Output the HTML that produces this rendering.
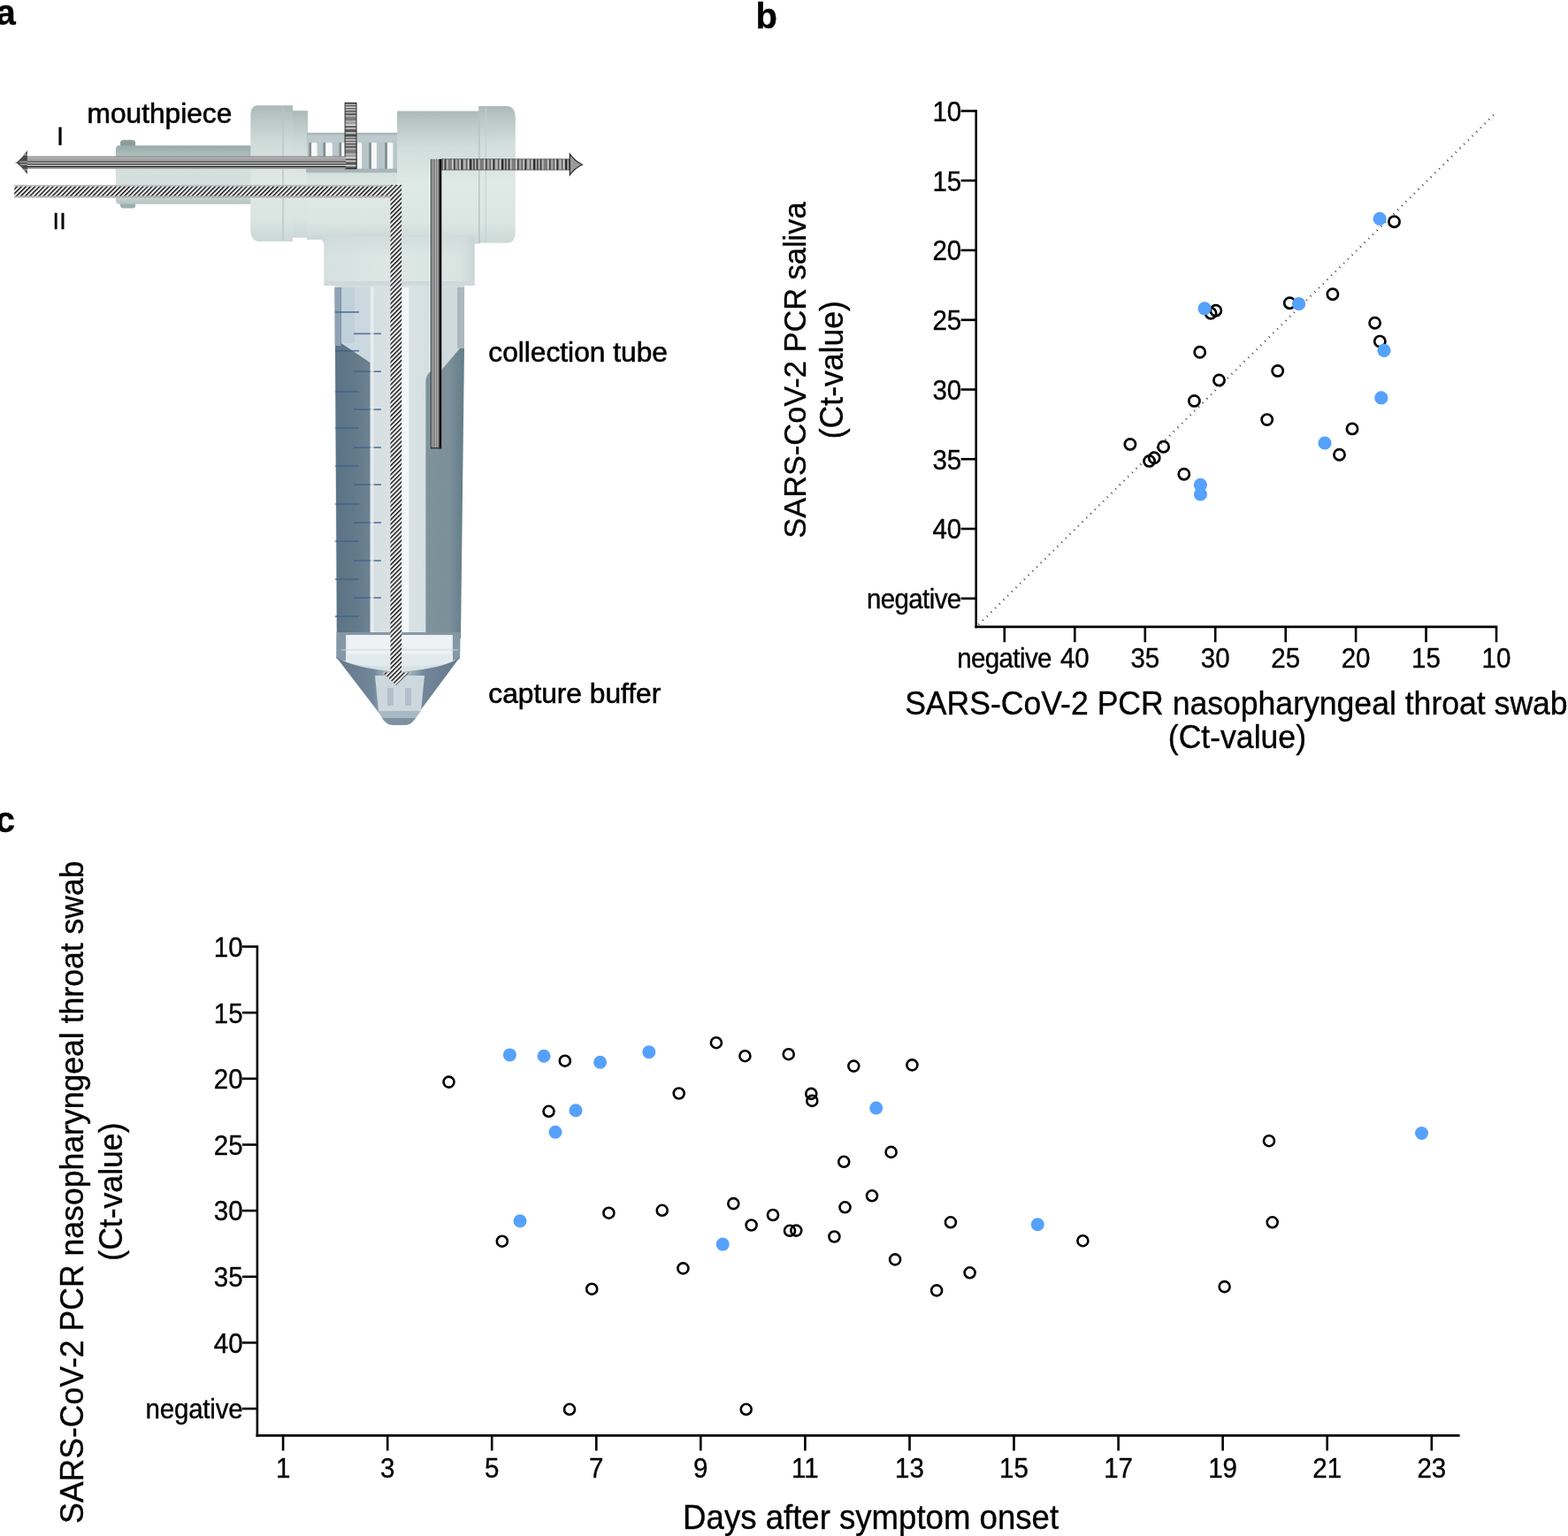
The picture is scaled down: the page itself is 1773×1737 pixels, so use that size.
<!DOCTYPE html><html><head><meta charset="utf-8"><title>Figure</title><style>html,body{margin:0;padding:0;background:#fff;}svg{display:block;}</style></head><body>
<svg width="1773" height="1737" viewBox="0 0 1773 1737">
<rect width="1773" height="1737" fill="#fff"/>
<style>text{stroke:#000;stroke-width:0.35px;}</style>
<defs>
<linearGradient id="gCyl" x1="0" y1="0" x2="0" y2="1">
 <stop offset="0" stop-color="#a9b9b7"/><stop offset="0.07" stop-color="#b6c5c3"/><stop offset="0.28" stop-color="#d0dcd9"/><stop offset="0.55" stop-color="#dee8e5"/><stop offset="0.85" stop-color="#dae4e1"/><stop offset="1" stop-color="#cbd8d5"/>
</linearGradient>
<linearGradient id="gCylR" x1="0" y1="0" x2="0" y2="1">
 <stop offset="0" stop-color="#aabab8"/><stop offset="0.08" stop-color="#b8c7c5"/><stop offset="0.28" stop-color="#d2dedb"/><stop offset="0.55" stop-color="#dfe9e6"/><stop offset="0.85" stop-color="#dbe5e2"/><stop offset="1" stop-color="#ccd9d6"/>
</linearGradient>
<linearGradient id="gMouth" x1="0" y1="0" x2="0" y2="1">
 <stop offset="0" stop-color="#98aba8"/><stop offset="0.18" stop-color="#aebfbc"/><stop offset="0.4" stop-color="#d3dfdd"/><stop offset="0.8" stop-color="#d6e1de"/><stop offset="1" stop-color="#b3c3c0"/>
</linearGradient>
<linearGradient id="gNeck" x1="0" y1="0" x2="1" y2="0">
 <stop offset="0" stop-color="#c9d6d4"/><stop offset="0.08" stop-color="#d6e1df"/><stop offset="0.5" stop-color="#dde7e4"/><stop offset="0.92" stop-color="#d9e4e1"/><stop offset="1" stop-color="#c9d6d4"/>
</linearGradient>
<linearGradient id="gNeckTop" x1="0" y1="0" x2="0" y2="1">
 <stop offset="0" stop-color="#cbd6d8" stop-opacity="1"/><stop offset="1" stop-color="#cbd6d8" stop-opacity="0"/>
</linearGradient>
<linearGradient id="gLiqL" x1="378" y1="0" x2="419" y2="0" gradientUnits="userSpaceOnUse">
 <stop offset="0" stop-color="#5c7386"/><stop offset="0.5" stop-color="#617889"/><stop offset="1" stop-color="#6d8392"/>
</linearGradient>
<linearGradient id="gLiqR" x1="481" y1="0" x2="525" y2="0" gradientUnits="userSpaceOnUse">
 <stop offset="0" stop-color="#7f939c"/><stop offset="0.6" stop-color="#7c9099"/><stop offset="0.85" stop-color="#6c8390"/><stop offset="1" stop-color="#647c89"/>
</linearGradient>
<linearGradient id="gTubeMid" x1="0" y1="0" x2="1" y2="0">
 <stop offset="0" stop-color="#cfdadd"/><stop offset="0.5" stop-color="#dae3e6"/><stop offset="1" stop-color="#d0dadd"/>
</linearGradient>
<linearGradient id="gCone" x1="0" y1="0" x2="1" y2="0">
 <stop offset="0" stop-color="#63788a"/><stop offset="0.3" stop-color="#71879a"/><stop offset="0.45" stop-color="#b9c8d0"/><stop offset="0.55" stop-color="#b9c8d0"/><stop offset="0.7" stop-color="#72889a"/><stop offset="1" stop-color="#64798b"/>
</linearGradient>
<pattern id="pHatch" patternUnits="userSpaceOnUse" width="3.6" height="3.6" patternTransform="rotate(45)">
 <rect width="3.6" height="3.6" fill="#f2f2f2"/><rect width="1.45" height="3.6" fill="#111"/>
</pattern>
<pattern id="pBarH" patternUnits="userSpaceOnUse" width="10" height="37" y="116.3">
 <rect width="10" height="37" fill="#8c8c8c"/>
 <rect y="0" width="10" height="1.2" fill="#333"/><rect y="1.6" width="10" height="1" fill="#e0e0e0"/><rect y="3.2" width="10" height="0.9" fill="#222"/>
 <rect y="4.4" width="10" height="1.4" fill="#f2f2f2"/><rect y="6" width="10" height="0.8" fill="#1a1a1a"/><rect y="7.2" width="10" height="1.6" fill="#cfcfcf"/>
 <rect y="9.2" width="10" height="0.9" fill="#222"/><rect y="10.6" width="10" height="1.4" fill="#bdbdbd"/><rect y="12.4" width="10" height="1.2" fill="#2a2a2a"/>
 <rect y="14.2" width="10" height="1.1" fill="#d9d9d9"/><rect y="16" width="10" height="4" fill="#7a7a7a"/><rect y="20.4" width="10" height="1.4" fill="#c4c4c4"/>
 <rect y="22.5" width="10" height="1.5" fill="#9f9f9f"/><rect y="24.4" width="10" height="1.8" fill="#e8e8e8"/><rect y="26.6" width="10" height="1" fill="#111"/>
 <rect y="28.2" width="10" height="1.2" fill="#ececec"/><rect y="30" width="10" height="3" fill="#555"/><rect y="33.6" width="10" height="1.2" fill="#f5f5f5"/>
 <rect y="35.4" width="10" height="1" fill="#222"/>
</pattern>
<pattern id="pBarV" patternUnits="userSpaceOnUse" width="36" height="10" x="499.4">
 <rect width="36" height="10" fill="#8e8e8e"/>
 <rect x="0" width="1.2" height="10" fill="#1a1a1a"/><rect x="1.8" width="1" height="10" fill="#e6e6e6"/><rect x="3.4" width="1.6" height="10" fill="#2b2b2b"/>
 <rect x="5.6" width="1.2" height="10" fill="#d8d8d8"/><rect x="7.4" width="4" height="10" fill="#7a7a7a"/><rect x="12" width="1.2" height="10" fill="#f2f2f2"/>
 <rect x="13.8" width="1.2" height="10" fill="#151515"/><rect x="15.6" width="2.4" height="10" fill="#a6a6a6"/><rect x="18.6" width="0.9" height="10" fill="#333"/>
 <rect x="20" width="1.4" height="10" fill="#e8e8e8"/><rect x="22" width="1.8" height="10" fill="#222"/><rect x="24.4" width="3" height="10" fill="#b5b5b5"/>
 <rect x="28" width="1" height="10" fill="#3a3a3a"/><rect x="29.6" width="1.4" height="10" fill="#efefef"/><rect x="31.6" width="2.2" height="10" fill="#1e1e1e"/><rect x="34.4" width="1" height="10" fill="#cfcfcf"/>
</pattern>
</defs>
<rect x="136" y="158.3" width="17.2" height="8.5" rx="3.5" fill="#8e9b9c"/>
<rect x="136" y="228" width="17.2" height="7.6" rx="3.5" fill="#9fadae"/>
<path d="M134.5 164.4 H284 V230.7 H134.5 Q130.8 230.7 130.8 225 V170 Q130.8 164.4 134.5 164.4 Z" fill="url(#gMouth)"/>
<path d="M290 119.3 H331 V273 H292 Q284 272 283.3 262 V131 Q283.5 120 290 119.3 Z" fill="url(#gCyl)"/>
<rect x="319.4" y="121" width="1.4" height="151" fill="#b9c6c9"/>
<rect x="330.8" y="125.2" width="17.3" height="143.5" fill="url(#gCyl)"/>
<rect x="347" y="150" width="104" height="121" fill="url(#gCyl)"/>
<rect x="348" y="150.5" width="101" height="11" fill="#bccacd"/>
<rect x="348" y="150.5" width="101" height="2" fill="#a9b7ba"/>
<rect x="348" y="161" width="101" height="34" fill="#b9c6c9"/>
<rect x="352" y="161.3" width="6.6" height="29.6" rx="1.5" fill="#f6f8f9"/>
<rect x="349.4" y="161.3" width="2.6" height="29.6" fill="#7f8c8f"/>
<rect x="368.1" y="161.3" width="7.7" height="29.6" rx="1.5" fill="#f6f8f9"/>
<rect x="365.5" y="161.3" width="2.6" height="29.6" fill="#7f8c8f"/>
<rect x="386.1" y="161.3" width="4.0" height="29.6" rx="1.5" fill="#f6f8f9"/>
<rect x="383.5" y="161.3" width="2.6" height="29.6" fill="#7f8c8f"/>
<rect x="403.7" y="161.3" width="5.5" height="29.6" rx="1.5" fill="#f6f8f9"/>
<rect x="401.09999999999997" y="161.3" width="2.6" height="29.6" fill="#7f8c8f"/>
<rect x="419.8" y="161.3" width="6.2" height="29.6" rx="1.5" fill="#f6f8f9"/>
<rect x="417.2" y="161.3" width="2.6" height="29.6" fill="#7f8c8f"/>
<rect x="437.8" y="161.3" width="6.6" height="29.6" rx="1.5" fill="#f6f8f9"/>
<rect x="435.2" y="161.3" width="2.6" height="29.6" fill="#7f8c8f"/>
<rect x="346" y="190.8" width="104" height="4.5" rx="1" fill="#a7b5b8"/>
<rect x="449" y="125.6" width="93.5" height="150" fill="url(#gCylR)"/>
<path d="M541.6 120 H574 Q582.3 120.5 582.8 132 V263 Q582.3 274.5 574 274.8 H541.6 Z" fill="url(#gCylR)"/>
<rect x="541.2" y="120" width="1.3" height="155" fill="#b1bfc2"/>
<rect x="548.8" y="121" width="1" height="153" fill="#c2ced1"/>
<path d="M356 267 H366.4 H536.7 V323 H366.4 V278 Q366.4 268.4 356 268.4 Z" fill="url(#gNeck)"/>
<path d="M356 266 H536.7 V290 H366.4 V278 Q366.4 268.4 356 268.4 Z" fill="url(#gNeckTop)" opacity="0.6"/>
<rect x="366.4" y="318" width="170.3" height="5" fill="#cfd9dc"/>
<path d="M378.6 322.7 H525.2 L520.1 743 L469 812 Q466 819 458 820 H444 Q436 819 433 812 L380.2 743 Z" fill="url(#gTubeMid)"/>
<path d="M378.6 325 H386 V388 L418.7 410 V718 H381 Z" fill="url(#gLiqL)"/>
<rect x="378.6" y="325" width="7" height="66" fill="#8ea2b3"/>
<path d="M386 325 H418.7 V410 L386 388 Z" fill="#cbd8df"/>
<rect x="386" y="325" width="15" height="63" fill="#c0d0da"/>
<rect x="379" y="352.1" width="27" height="1.7" fill="#41628a" opacity="0.8"/>
<rect x="400" y="376.5" width="31" height="1.7" fill="#41628a" opacity="0.8"/>
<rect x="379" y="395.9" width="27" height="1.7" fill="#41628a" opacity="0.8"/>
<rect x="400" y="419.3" width="31" height="1.7" fill="#41628a" opacity="0.8"/>
<rect x="379" y="442.2" width="27" height="1.7" fill="#41628a" opacity="0.8"/>
<rect x="400" y="462.2" width="31" height="1.7" fill="#41628a" opacity="0.8"/>
<rect x="379" y="483.2" width="27" height="1.7" fill="#41628a" opacity="0.8"/>
<rect x="400" y="505.2" width="31" height="1.7" fill="#41628a" opacity="0.8"/>
<rect x="379" y="526.2" width="27" height="1.7" fill="#41628a" opacity="0.8"/>
<rect x="400" y="547.2" width="31" height="1.7" fill="#41628a" opacity="0.8"/>
<rect x="379" y="569.2" width="27" height="1.7" fill="#41628a" opacity="0.8"/>
<rect x="400" y="590.2" width="31" height="1.7" fill="#41628a" opacity="0.8"/>
<rect x="379" y="611.2" width="27" height="1.7" fill="#41628a" opacity="0.8"/>
<rect x="400" y="633.2" width="31" height="1.7" fill="#41628a" opacity="0.8"/>
<rect x="379" y="654.2" width="27" height="1.7" fill="#41628a" opacity="0.8"/>
<rect x="400" y="675.2" width="31" height="1.7" fill="#41628a" opacity="0.8"/>
<rect x="379" y="696.2" width="27" height="1.7" fill="#41628a" opacity="0.8"/>
<rect x="396" y="732.2" width="28" height="1.7" fill="#41628a" opacity="0.8"/>
<path d="M499.6 325 H525 V394 L520 394 L499.6 418 Z" fill="#d0d9dc"/>
<rect x="517" y="325" width="8" height="69" fill="#aab7bd"/>
<path d="M481.4 432 Q482 416 499.6 418 L520 394 H525 L521 722 H481.4 Z" fill="url(#gLiqR)"/>
<rect x="454.4" y="325" width="8" height="396" fill="#f3f7f8"/>
<rect x="418.7" y="325" width="4" height="396" fill="#e9eff2" opacity="0.8"/>
<path d="M380.5 715 H520.5 L520.1 745 Q452 762 380.3 745 Z" fill="#8497a6"/>
<path d="M391 718 H512 V750 Q452 758 391 750 Z" fill="#e3eaed"/>
<rect x="393" y="718" width="117" height="21.5" fill="#eef2f4"/>
<path d="M386 735 H518" stroke="#cdd6dc" stroke-width="1"/>
<path d="M380.2 743 Q400 756 452 760 Q504 756 520.1 743 L469 812 Q466 819 458 820 H444 Q436 819 433 812 Z" fill="url(#gCone)"/>
<path d="M424 764 H480 L476 804 H428 Z" fill="#cdd8de"/>
<rect x="438" y="778" width="7" height="20" fill="#b3bfc8"/><rect x="458" y="778" width="7" height="20" fill="#b3bfc8"/>
<path d="M428 804 H476 L470 812 H432 Z" fill="#a9b9c4"/>
<path d="M432 812 H470 Q466 819 458 820 H444 Q436 819 432 812 Z" fill="#7d91a1"/>
<rect x="16.2" y="209" width="437.8" height="14.3" fill="url(#pHatch)"/>
<rect x="16.2" y="209" width="437.8" height="1.8" fill="#c2c2c2"/>
<rect x="16.2" y="221.6" width="425.3" height="1.7" fill="#b4b4b4"/>
<rect x="441.5" y="209" width="12.6" height="552" fill="url(#pHatch)"/>
<path d="M433 760.5 H462.6 L447.8 775 Z" fill="url(#pHatch)"/>
<rect x="390.1" y="116.3" width="12.9" height="74.5" fill="url(#pBarH)"/>
<rect x="390.1" y="116.3" width="12.9" height="74.5" fill="none" stroke="#1a1a1a" stroke-width="0.9"/>
<rect x="30" y="176.8" width="361" height="14" fill="#a2a2a2"/>
<rect x="30" y="176.8" width="361" height="0.9" fill="#7a7a7a"/>
<rect x="30" y="177.7" width="361" height="1.3" fill="#b9b9b9"/>
<rect x="30" y="182.6" width="361" height="1.1" fill="#151515"/>
<rect x="30" y="183.7" width="361" height="1.3" fill="#cfcfcf"/>
<rect x="30" y="185.0" width="361" height="0.9" fill="#151515"/>
<rect x="30" y="185.9" width="361" height="2.2" fill="#ababab"/>
<rect x="30" y="188.0" width="361" height="1.0" fill="#151515"/>
<rect x="30" y="189.0" width="361" height="1.8" fill="#959595"/>
<path d="M16 183.9 L19 183.4 Q24 179 25.8 176.8 L30.9 170.1 V197.1 L25.8 191 Q24 188.7 19 184.4 Z" fill="#4a4a4a"/>
<path d="M22 183 H31 M23 186 H31 M26 175 H31 M26 192 H31" stroke="#c8c8c8" stroke-width="1"/>
<rect x="499.4" y="179.9" width="145" height="12.2" fill="url(#pBarV)"/>
<rect x="499.4" y="179.9" width="145" height="12.2" fill="none" stroke="#444" stroke-width="0.7"/>
<rect x="487" y="179.9" width="12.4" height="327.5" fill="#a8a8a8"/>
<rect x="487.0" y="179.9" width="1.0" height="327.5" fill="#1c1c1c"/>
<rect x="488.2" y="179.9" width="0.8" height="327.5" fill="#f0f0f0"/>
<rect x="489.2" y="179.9" width="0.9" height="327.5" fill="#2a2a2a"/>
<rect x="490.3" y="179.9" width="0.8" height="327.5" fill="#e0e0e0"/>
<rect x="491.3" y="179.9" width="0.9" height="327.5" fill="#333"/>
<rect x="492.4" y="179.9" width="0.8" height="327.5" fill="#f2f2f2"/>
<rect x="493.4" y="179.9" width="0.9" height="327.5" fill="#444"/>
<rect x="494.5" y="179.9" width="0.8" height="327.5" fill="#d8d8d8"/>
<rect x="495.5" y="179.9" width="0.7" height="327.5" fill="#555"/>
<rect x="496.6" y="179.9" width="2.6" height="327.5" fill="#000"/>
<rect x="487" y="506" width="12.4" height="1.4" fill="#333"/>
<path d="M644.3 174.1 Q650 182 658.4 186.2 Q650 190 644.3 197.8 Z" fill="#9a9a9a" stroke="#2a2a2a" stroke-width="1.2"/>
<text x="98.5" y="138.9" font-family='&quot;Liberation Sans&quot;, Arial, sans-serif' font-size="31.7" style="stroke-width:0.6px">mouthpiece</text>
<text x="552.3" y="409.3" font-family='&quot;Liberation Sans&quot;, Arial, sans-serif' font-size="31.7" style="stroke-width:0.6px">collection tube</text>
<text x="552.3" y="794.6" font-family='&quot;Liberation Sans&quot;, Arial, sans-serif' font-size="31.7" style="stroke-width:0.6px">capture buffer</text>
<text x="64.0" y="164" font-family='&quot;Liberation Sans&quot;, Arial, sans-serif' font-size="29">I</text>
<text x="59.4" y="259.4" font-family='&quot;Liberation Sans&quot;, Arial, sans-serif' font-size="26.5" letter-spacing="0.4">II</text>
<text x="-4.6" y="28" font-family='&quot;Liberation Sans&quot;, Arial, sans-serif' font-weight="bold" font-size="40">a</text>
<text x="854.5" y="32" font-family='&quot;Liberation Sans&quot;, Arial, sans-serif' font-weight="bold" font-size="40">b</text>
<text x="-5.3" y="941" font-family='&quot;Liberation Sans&quot;, Arial, sans-serif' font-weight="bold" font-size="40">c</text>
<g id="plotsB"><line x1="1103.7" y1="124.2" x2="1103.7" y2="710.1999999999999" stroke="#000" stroke-width="2.6"/>
<line x1="1102.4" y1="708.9" x2="1693.3" y2="708.9" stroke="#000" stroke-width="2.6"/>
<line x1="1086.6" y1="125.5" x2="1103.7" y2="125.5" stroke="#000" stroke-width="2.6"/>
<text transform="translate(1087.2 136.9) scale(1 1.04)" text-anchor="end" font-family='&quot;Liberation Sans&quot;, Arial, sans-serif' font-size="29.5">10</text>
<line x1="1086.6" y1="204.2" x2="1103.7" y2="204.2" stroke="#000" stroke-width="2.6"/>
<text transform="translate(1087.2 215.7) scale(1 1.04)" text-anchor="end" font-family='&quot;Liberation Sans&quot;, Arial, sans-serif' font-size="29.5">15</text>
<line x1="1086.6" y1="283.0" x2="1103.7" y2="283.0" stroke="#000" stroke-width="2.6"/>
<text transform="translate(1087.2 294.4) scale(1 1.04)" text-anchor="end" font-family='&quot;Liberation Sans&quot;, Arial, sans-serif' font-size="29.5">20</text>
<line x1="1086.6" y1="361.8" x2="1103.7" y2="361.8" stroke="#000" stroke-width="2.6"/>
<text transform="translate(1087.2 373.1) scale(1 1.04)" text-anchor="end" font-family='&quot;Liberation Sans&quot;, Arial, sans-serif' font-size="29.5">25</text>
<line x1="1086.6" y1="440.5" x2="1103.7" y2="440.5" stroke="#000" stroke-width="2.6"/>
<text transform="translate(1087.2 451.9) scale(1 1.04)" text-anchor="end" font-family='&quot;Liberation Sans&quot;, Arial, sans-serif' font-size="29.5">30</text>
<line x1="1086.6" y1="519.2" x2="1103.7" y2="519.2" stroke="#000" stroke-width="2.6"/>
<text transform="translate(1087.2 530.6) scale(1 1.04)" text-anchor="end" font-family='&quot;Liberation Sans&quot;, Arial, sans-serif' font-size="29.5">35</text>
<line x1="1086.6" y1="598.0" x2="1103.7" y2="598.0" stroke="#000" stroke-width="2.6"/>
<text transform="translate(1087.2 609.4) scale(1 1.04)" text-anchor="end" font-family='&quot;Liberation Sans&quot;, Arial, sans-serif' font-size="29.5">40</text>
<line x1="1086.6" y1="676.8" x2="1103.7" y2="676.8" stroke="#000" stroke-width="2.6"/>
<text transform="translate(1087.2 687.9) scale(1 1.04)" text-anchor="end" textLength="107.3" font-family='&quot;Liberation Sans&quot;, Arial, sans-serif' font-size="29.5">negative</text>
<line x1="1215.3" y1="708.9" x2="1215.3" y2="726.2" stroke="#000" stroke-width="2.6"/>
<text transform="translate(1215.3 755.2) scale(1 1.04)" text-anchor="middle" font-family='&quot;Liberation Sans&quot;, Arial, sans-serif' font-size="29.5">40</text>
<line x1="1294.8" y1="708.9" x2="1294.8" y2="726.2" stroke="#000" stroke-width="2.6"/>
<text transform="translate(1294.8 755.2) scale(1 1.04)" text-anchor="middle" font-family='&quot;Liberation Sans&quot;, Arial, sans-serif' font-size="29.5">35</text>
<line x1="1374.2" y1="708.9" x2="1374.2" y2="726.2" stroke="#000" stroke-width="2.6"/>
<text transform="translate(1374.2 755.2) scale(1 1.04)" text-anchor="middle" font-family='&quot;Liberation Sans&quot;, Arial, sans-serif' font-size="29.5">30</text>
<line x1="1453.7" y1="708.9" x2="1453.7" y2="726.2" stroke="#000" stroke-width="2.6"/>
<text transform="translate(1453.7 755.2) scale(1 1.04)" text-anchor="middle" font-family='&quot;Liberation Sans&quot;, Arial, sans-serif' font-size="29.5">25</text>
<line x1="1533.1" y1="708.9" x2="1533.1" y2="726.2" stroke="#000" stroke-width="2.6"/>
<text transform="translate(1533.1 755.2) scale(1 1.04)" text-anchor="middle" font-family='&quot;Liberation Sans&quot;, Arial, sans-serif' font-size="29.5">20</text>
<line x1="1612.5" y1="708.9" x2="1612.5" y2="726.2" stroke="#000" stroke-width="2.6"/>
<text transform="translate(1612.5 755.2) scale(1 1.04)" text-anchor="middle" font-family='&quot;Liberation Sans&quot;, Arial, sans-serif' font-size="29.5">15</text>
<line x1="1692.0" y1="708.9" x2="1692.0" y2="726.2" stroke="#000" stroke-width="2.6"/>
<text transform="translate(1692.0 755.2) scale(1 1.04)" text-anchor="middle" font-family='&quot;Liberation Sans&quot;, Arial, sans-serif' font-size="29.5">10</text>
<line x1="1135.8" y1="708.9" x2="1135.8" y2="726.2" stroke="#000" stroke-width="2.6"/>
<text transform="translate(1135.8 755.2) scale(1 1.04)" text-anchor="middle" textLength="107.3" font-family='&quot;Liberation Sans&quot;, Arial, sans-serif' font-size="29.5">negative</text>
<line x1="1106.5" y1="706.4" x2="1689.5" y2="129.5" stroke="#2a2a2a" stroke-width="2.3" stroke-dasharray="0.9 5.7"/>
<circle cx="1576.5" cy="250.7" r="6.1" fill="none" stroke="#000" stroke-width="2.7"/>
<circle cx="1506.9" cy="332.7" r="6.1" fill="none" stroke="#000" stroke-width="2.7"/>
<circle cx="1458.3" cy="342.7" r="6.1" fill="none" stroke="#000" stroke-width="2.7"/>
<circle cx="1369.1" cy="354.3" r="6.1" fill="none" stroke="#000" stroke-width="2.7"/>
<circle cx="1374.8" cy="351.2" r="6.1" fill="none" stroke="#000" stroke-width="2.7"/>
<circle cx="1554.6" cy="365.2" r="6.1" fill="none" stroke="#000" stroke-width="2.7"/>
<circle cx="1560.3" cy="386.1" r="6.1" fill="none" stroke="#000" stroke-width="2.7"/>
<circle cx="1356.7" cy="398.3" r="6.1" fill="none" stroke="#000" stroke-width="2.7"/>
<circle cx="1444.7" cy="419.4" r="6.1" fill="none" stroke="#000" stroke-width="2.7"/>
<circle cx="1378.5" cy="429.9" r="6.1" fill="none" stroke="#000" stroke-width="2.7"/>
<circle cx="1350.4" cy="453.4" r="6.1" fill="none" stroke="#000" stroke-width="2.7"/>
<circle cx="1432.7" cy="474.6" r="6.1" fill="none" stroke="#000" stroke-width="2.7"/>
<circle cx="1529.0" cy="484.9" r="6.1" fill="none" stroke="#000" stroke-width="2.7"/>
<circle cx="1277.9" cy="502.4" r="6.1" fill="none" stroke="#000" stroke-width="2.7"/>
<circle cx="1315.6" cy="505.2" r="6.1" fill="none" stroke="#000" stroke-width="2.7"/>
<circle cx="1514.5" cy="514.2" r="6.1" fill="none" stroke="#000" stroke-width="2.7"/>
<circle cx="1305.2" cy="517.8" r="6.1" fill="none" stroke="#000" stroke-width="2.7"/>
<circle cx="1299.6" cy="521.4" r="6.1" fill="none" stroke="#000" stroke-width="2.7"/>
<circle cx="1338.8" cy="536.2" r="6.1" fill="none" stroke="#000" stroke-width="2.7"/>
<circle cx="1560.1" cy="247.3" r="7.6" fill="#56a1fc"/>
<circle cx="1468.6" cy="343.7" r="7.6" fill="#56a1fc"/>
<circle cx="1362.1" cy="348.9" r="7.6" fill="#56a1fc"/>
<circle cx="1565.0" cy="396.3" r="7.6" fill="#56a1fc"/>
<circle cx="1561.8" cy="449.9" r="7.6" fill="#56a1fc"/>
<circle cx="1498.0" cy="501.0" r="7.6" fill="#56a1fc"/>
<circle cx="1357.4" cy="548.3" r="7.6" fill="#56a1fc"/>
<circle cx="1357.4" cy="559.0" r="7.6" fill="#56a1fc"/>
<text transform="translate(1397.9 808) scale(1 1.04)" text-anchor="middle" font-family='&quot;Liberation Sans&quot;, Arial, sans-serif' font-size="35.6">SARS-CoV-2 PCR nasopharyngeal throat swab</text>
<text transform="translate(1398.9 845.5) scale(1 1.04)" text-anchor="middle" font-family='&quot;Liberation Sans&quot;, Arial, sans-serif' font-size="35.6">(Ct-value)</text>
<text transform="translate(910.5 418.6) rotate(-90) scale(1 1.04)" text-anchor="middle" font-family='&quot;Liberation Sans&quot;, Arial, sans-serif' font-size="34.4">SARS-CoV-2 PCR saliva</text>
<text transform="translate(953.4 418.2) rotate(-90) scale(1 1.04)" text-anchor="middle" font-family='&quot;Liberation Sans&quot;, Arial, sans-serif' font-size="35.6">(Ct-value)</text></g>
<g id="plotsC"><line x1="290.9" y1="1069.2" x2="290.9" y2="1624.7" stroke="#000" stroke-width="2.6"/>
<line x1="289.59999999999997" y1="1623.4" x2="1650.6" y2="1623.4" stroke="#000" stroke-width="2.6"/>
<line x1="273.9" y1="1070.5" x2="290.9" y2="1070.5" stroke="#000" stroke-width="2.6"/>
<text transform="translate(274.6 1081.8) scale(1 1.04)" text-anchor="end" font-family='&quot;Liberation Sans&quot;, Arial, sans-serif' font-size="29.5">10</text>
<line x1="273.9" y1="1145.2" x2="290.9" y2="1145.2" stroke="#000" stroke-width="2.6"/>
<text transform="translate(274.6 1156.5) scale(1 1.04)" text-anchor="end" font-family='&quot;Liberation Sans&quot;, Arial, sans-serif' font-size="29.5">15</text>
<line x1="273.9" y1="1219.8" x2="290.9" y2="1219.8" stroke="#000" stroke-width="2.6"/>
<text transform="translate(274.6 1231.1) scale(1 1.04)" text-anchor="end" font-family='&quot;Liberation Sans&quot;, Arial, sans-serif' font-size="29.5">20</text>
<line x1="273.9" y1="1294.5" x2="290.9" y2="1294.5" stroke="#000" stroke-width="2.6"/>
<text transform="translate(274.6 1305.8) scale(1 1.04)" text-anchor="end" font-family='&quot;Liberation Sans&quot;, Arial, sans-serif' font-size="29.5">25</text>
<line x1="273.9" y1="1369.1" x2="290.9" y2="1369.1" stroke="#000" stroke-width="2.6"/>
<text transform="translate(274.6 1380.4) scale(1 1.04)" text-anchor="end" font-family='&quot;Liberation Sans&quot;, Arial, sans-serif' font-size="29.5">30</text>
<line x1="273.9" y1="1443.8" x2="290.9" y2="1443.8" stroke="#000" stroke-width="2.6"/>
<text transform="translate(274.6 1455.0) scale(1 1.04)" text-anchor="end" font-family='&quot;Liberation Sans&quot;, Arial, sans-serif' font-size="29.5">35</text>
<line x1="273.9" y1="1518.4" x2="290.9" y2="1518.4" stroke="#000" stroke-width="2.6"/>
<text transform="translate(274.6 1529.7) scale(1 1.04)" text-anchor="end" font-family='&quot;Liberation Sans&quot;, Arial, sans-serif' font-size="29.5">40</text>
<line x1="273.9" y1="1593.0" x2="290.9" y2="1593.0" stroke="#000" stroke-width="2.6"/>
<text transform="translate(274.6 1604.4) scale(1 1.04)" text-anchor="end" textLength="110.0" font-family='&quot;Liberation Sans&quot;, Arial, sans-serif' font-size="29.5">negative</text>
<line x1="320.1" y1="1623.4" x2="320.1" y2="1640.5" stroke="#000" stroke-width="2.6"/>
<text transform="translate(320.1 1671.4) scale(1 1.04)" text-anchor="middle" font-family='&quot;Liberation Sans&quot;, Arial, sans-serif' font-size="29.5">1</text>
<line x1="438.2" y1="1623.4" x2="438.2" y2="1640.5" stroke="#000" stroke-width="2.6"/>
<text transform="translate(438.2 1671.4) scale(1 1.04)" text-anchor="middle" font-family='&quot;Liberation Sans&quot;, Arial, sans-serif' font-size="29.5">3</text>
<line x1="556.2" y1="1623.4" x2="556.2" y2="1640.5" stroke="#000" stroke-width="2.6"/>
<text transform="translate(556.2 1671.4) scale(1 1.04)" text-anchor="middle" font-family='&quot;Liberation Sans&quot;, Arial, sans-serif' font-size="29.5">5</text>
<line x1="674.3" y1="1623.4" x2="674.3" y2="1640.5" stroke="#000" stroke-width="2.6"/>
<text transform="translate(674.3 1671.4) scale(1 1.04)" text-anchor="middle" font-family='&quot;Liberation Sans&quot;, Arial, sans-serif' font-size="29.5">7</text>
<line x1="792.3" y1="1623.4" x2="792.3" y2="1640.5" stroke="#000" stroke-width="2.6"/>
<text transform="translate(792.3 1671.4) scale(1 1.04)" text-anchor="middle" font-family='&quot;Liberation Sans&quot;, Arial, sans-serif' font-size="29.5">9</text>
<line x1="910.4" y1="1623.4" x2="910.4" y2="1640.5" stroke="#000" stroke-width="2.6"/>
<text transform="translate(910.4 1671.4) scale(1 1.04)" text-anchor="middle" font-family='&quot;Liberation Sans&quot;, Arial, sans-serif' font-size="29.5">11</text>
<line x1="1028.5" y1="1623.4" x2="1028.5" y2="1640.5" stroke="#000" stroke-width="2.6"/>
<text transform="translate(1028.5 1671.4) scale(1 1.04)" text-anchor="middle" font-family='&quot;Liberation Sans&quot;, Arial, sans-serif' font-size="29.5">13</text>
<line x1="1146.5" y1="1623.4" x2="1146.5" y2="1640.5" stroke="#000" stroke-width="2.6"/>
<text transform="translate(1146.5 1671.4) scale(1 1.04)" text-anchor="middle" font-family='&quot;Liberation Sans&quot;, Arial, sans-serif' font-size="29.5">15</text>
<line x1="1264.6" y1="1623.4" x2="1264.6" y2="1640.5" stroke="#000" stroke-width="2.6"/>
<text transform="translate(1264.6 1671.4) scale(1 1.04)" text-anchor="middle" font-family='&quot;Liberation Sans&quot;, Arial, sans-serif' font-size="29.5">17</text>
<line x1="1382.6" y1="1623.4" x2="1382.6" y2="1640.5" stroke="#000" stroke-width="2.6"/>
<text transform="translate(1382.6 1671.4) scale(1 1.04)" text-anchor="middle" font-family='&quot;Liberation Sans&quot;, Arial, sans-serif' font-size="29.5">19</text>
<line x1="1500.7" y1="1623.4" x2="1500.7" y2="1640.5" stroke="#000" stroke-width="2.6"/>
<text transform="translate(1500.7 1671.4) scale(1 1.04)" text-anchor="middle" font-family='&quot;Liberation Sans&quot;, Arial, sans-serif' font-size="29.5">21</text>
<line x1="1618.8" y1="1623.4" x2="1618.8" y2="1640.5" stroke="#000" stroke-width="2.6"/>
<text transform="translate(1618.8 1671.4) scale(1 1.04)" text-anchor="middle" font-family='&quot;Liberation Sans&quot;, Arial, sans-serif' font-size="29.5">23</text>
<circle cx="507.5" cy="1223.6" r="6.0" fill="none" stroke="#000" stroke-width="2.6"/>
<circle cx="638.8" cy="1199.7" r="6.0" fill="none" stroke="#000" stroke-width="2.6"/>
<circle cx="620.5" cy="1256.8" r="6.0" fill="none" stroke="#000" stroke-width="2.6"/>
<circle cx="809.9" cy="1179.2" r="6.0" fill="none" stroke="#000" stroke-width="2.6"/>
<circle cx="842.4" cy="1194.2" r="6.0" fill="none" stroke="#000" stroke-width="2.6"/>
<circle cx="891.7" cy="1192.2" r="6.0" fill="none" stroke="#000" stroke-width="2.6"/>
<circle cx="767.7" cy="1236.5" r="6.0" fill="none" stroke="#000" stroke-width="2.6"/>
<circle cx="917.3" cy="1236.9" r="6.0" fill="none" stroke="#000" stroke-width="2.6"/>
<circle cx="918.3" cy="1244.9" r="6.0" fill="none" stroke="#000" stroke-width="2.6"/>
<circle cx="965.3" cy="1205.6" r="6.0" fill="none" stroke="#000" stroke-width="2.6"/>
<circle cx="1031.4" cy="1204.4" r="6.0" fill="none" stroke="#000" stroke-width="2.6"/>
<circle cx="1007.6" cy="1302.9" r="6.0" fill="none" stroke="#000" stroke-width="2.6"/>
<circle cx="954.2" cy="1313.8" r="6.0" fill="none" stroke="#000" stroke-width="2.6"/>
<circle cx="1435.0" cy="1290.2" r="6.0" fill="none" stroke="#000" stroke-width="2.6"/>
<circle cx="1224.4" cy="1403.2" r="6.0" fill="none" stroke="#000" stroke-width="2.6"/>
<circle cx="1438.7" cy="1382.3" r="6.0" fill="none" stroke="#000" stroke-width="2.6"/>
<circle cx="1384.6" cy="1455.1" r="6.0" fill="none" stroke="#000" stroke-width="2.6"/>
<circle cx="567.8" cy="1403.7" r="6.0" fill="none" stroke="#000" stroke-width="2.6"/>
<circle cx="688.4" cy="1371.7" r="6.0" fill="none" stroke="#000" stroke-width="2.6"/>
<circle cx="748.7" cy="1368.8" r="6.0" fill="none" stroke="#000" stroke-width="2.6"/>
<circle cx="772.4" cy="1434.4" r="6.0" fill="none" stroke="#000" stroke-width="2.6"/>
<circle cx="669.2" cy="1457.7" r="6.0" fill="none" stroke="#000" stroke-width="2.6"/>
<circle cx="829.3" cy="1361.1" r="6.0" fill="none" stroke="#000" stroke-width="2.6"/>
<circle cx="849.6" cy="1385.5" r="6.0" fill="none" stroke="#000" stroke-width="2.6"/>
<circle cx="874.0" cy="1374.0" r="6.0" fill="none" stroke="#000" stroke-width="2.6"/>
<circle cx="893.0" cy="1391.8" r="6.0" fill="none" stroke="#000" stroke-width="2.6"/>
<circle cx="900.3" cy="1391.6" r="6.0" fill="none" stroke="#000" stroke-width="2.6"/>
<circle cx="943.4" cy="1398.5" r="6.0" fill="none" stroke="#000" stroke-width="2.6"/>
<circle cx="955.5" cy="1365.3" r="6.0" fill="none" stroke="#000" stroke-width="2.6"/>
<circle cx="986.0" cy="1352.3" r="6.0" fill="none" stroke="#000" stroke-width="2.6"/>
<circle cx="1074.9" cy="1382.3" r="6.0" fill="none" stroke="#000" stroke-width="2.6"/>
<circle cx="1012.1" cy="1424.4" r="6.0" fill="none" stroke="#000" stroke-width="2.6"/>
<circle cx="1096.6" cy="1439.3" r="6.0" fill="none" stroke="#000" stroke-width="2.6"/>
<circle cx="1059.1" cy="1459.4" r="6.0" fill="none" stroke="#000" stroke-width="2.6"/>
<circle cx="644.0" cy="1593.8" r="6.0" fill="none" stroke="#000" stroke-width="2.6"/>
<circle cx="843.7" cy="1593.8" r="6.0" fill="none" stroke="#000" stroke-width="2.6"/>
<circle cx="576.4" cy="1192.9" r="7.5" fill="#56a1fc"/>
<circle cx="615.0" cy="1194.2" r="7.5" fill="#56a1fc"/>
<circle cx="678.6" cy="1201.3" r="7.5" fill="#56a1fc"/>
<circle cx="733.8" cy="1189.8" r="7.5" fill="#56a1fc"/>
<circle cx="651.0" cy="1255.8" r="7.5" fill="#56a1fc"/>
<circle cx="628.0" cy="1280.2" r="7.5" fill="#56a1fc"/>
<circle cx="990.7" cy="1253.0" r="7.5" fill="#56a1fc"/>
<circle cx="1607.5" cy="1281.5" r="7.5" fill="#56a1fc"/>
<circle cx="588.0" cy="1380.7" r="7.5" fill="#56a1fc"/>
<circle cx="817.2" cy="1407.1" r="7.5" fill="#56a1fc"/>
<circle cx="1173.3" cy="1384.8" r="7.5" fill="#56a1fc"/>
<text transform="translate(984.6 1729) scale(1 1.04)" text-anchor="middle" font-family='&quot;Liberation Sans&quot;, Arial, sans-serif' font-size="36.6">Days after symptom onset</text>
<text transform="translate(93.9 1348.2) rotate(-90) scale(1 1.04)" text-anchor="middle" font-family='&quot;Liberation Sans&quot;, Arial, sans-serif' font-size="35.6">SARS-CoV-2 PCR nasopharyngeal throat swab</text>
<text transform="translate(137.7 1347.6) rotate(-90) scale(1 1.04)" text-anchor="middle" font-family='&quot;Liberation Sans&quot;, Arial, sans-serif' font-size="35.6">(Ct-value)</text></g>
</svg></body></html>
